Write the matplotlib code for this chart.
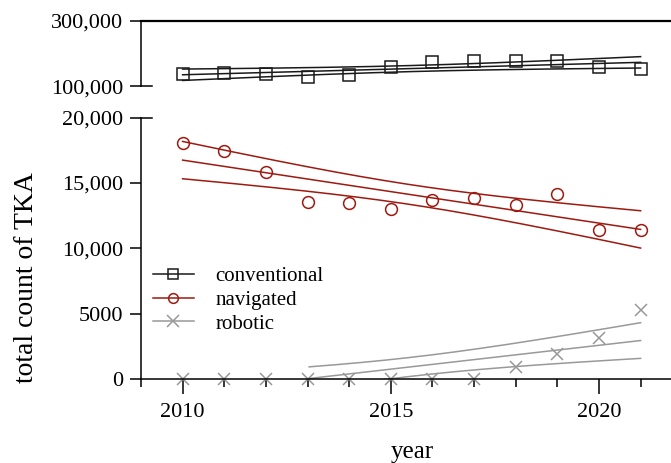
import numpy as np
import matplotlib
matplotlib.use('Agg')
import matplotlib.pyplot as plt
from matplotlib.lines import Line2D

plt.rcParams['font.family'] = ['Liberation Serif', 'DejaVu Serif']

# values
years = np.arange(2010, 2022)
conventional = [139100, 140900, 137800, 128600, 133800, 159400,
                173800, 176900, 176900, 177900, 159400, 153200]
navigated = [18020, 17460, 15830, 13500, 13450, 12990,
             13680, 13860, 13340, 14180, 11360, 11430]
robotic = [0, 0, 0, 0, 0, 0, 0, 0, 905, 1940, 3100, 5300]
robotic_fit_from = 2013

top_ticks = [100000, 300000]
top_labels = ['100,000', '300,000']
bot_ticks = [0, 5000, 10000, 15000, 20000]
bot_labels = ['0', '5000', '10,000', '15,000', '20,000']

c_conv = '#1a1a1a'
c_nav = '#9e1a10'
c_rob = '#999999'


def ols_band(x, y, xs, t=2.228):
    # linear fit with 95% confidence band of the mean (n=12, df=10)
    x = np.asarray(x, float)
    y = np.asarray(y, float)
    b, a = np.polyfit(x, y, 1)
    res = y - (a + b * x)
    s = np.sqrt(np.sum(res ** 2) / (len(x) - 2))
    xm = x.mean()
    sxx = np.sum((x - xm) ** 2)
    fit = a + b * xs
    half = t * s * np.sqrt(1 / len(x) + (xs - xm) ** 2 / sxx)
    return fit, fit - half, fit + half


xs = np.linspace(years[0], years[-1], 200)
xs_rob = xs[xs >= robotic_fit_from]

fig = plt.figure(figsize=(6.71, 4.63), dpi=100)
ax_top = fig.add_axes([0.2101, 0.8132, 0.7899, 0.1414])
ax_bot = fig.add_axes([0.2101, 0.1814, 0.7899, 0.5648])

mk = dict(ms=8.5, mew=1.1, mfc='none', ls='none')

# conventional on the upper part
for curve in ols_band(years, conventional, xs):
    ax_top.plot(xs, curve, color=c_conv, lw=1.1)
ax_top.plot(years, conventional, marker='s', color=c_conv, **mk)

# navigated and robotic on the lower part
for curve in ols_band(years, navigated, xs):
    ax_bot.plot(xs, curve, color=c_nav, lw=1.1)
ax_bot.plot(years, navigated, marker='o', color=c_nav, **mk)
for curve in ols_band(years, robotic, xs_rob):
    ax_bot.plot(xs_rob, curve, color=c_rob, lw=1.1)
ax_bot.plot(years, robotic, marker='x', color=c_rob, ms=9, mew=1.1, ls='none',
            clip_on=False)

for ax in (ax_top, ax_bot):
    ax.set_xlim(2009, 2021.73)
    ax.spines['right'].set_visible(False)
    ax.spines['left'].set_linewidth(1.1)
    ax.tick_params(axis='y', direction='out', length=8, width=1.1, pad=5,
                   labelsize=16)

ax_top.set_ylim(100000, 300000)
ax_top.set_yticks(top_ticks, top_labels)
ax_top.spines['bottom'].set_visible(False)
ax_top.spines['top'].set_linewidth(1.6)
ax_top.set_xticks([])

ax_bot.set_ylim(0, 20000)
ax_bot.set_yticks(bot_ticks, bot_labels)
ax_bot.spines['top'].set_visible(False)
ax_bot.spines['bottom'].set_linewidth(1.1)
ax_bot.set_xticks([2010, 2015, 2020])
ax_bot.set_xticks(years.tolist() + [2009], minor=True)
ax_bot.tick_params(axis='x', which='major', direction='out', length=11,
                   width=1.1, pad=6, labelsize=16)
ax_bot.tick_params(axis='x', which='minor', direction='out', length=5.5,
                   width=1.1)

# little caps at the break
ax_top.add_line(Line2D([0, 0.02], [0, 0], transform=ax_top.transAxes,
                       color='black', lw=1.1, clip_on=False))
ax_bot.add_line(Line2D([0, 0.02], [1, 1], transform=ax_bot.transAxes,
                       color='black', lw=1.1, clip_on=False))

handles = [Line2D([], [], color=c_conv, marker='s', ms=7, mfc='none', mew=1.1, lw=1.1),
           Line2D([], [], color=c_nav, marker='o', ms=7, mfc='none', mew=1.1, lw=1.1),
           Line2D([], [], color=c_rob, marker='x', ms=8, mew=1.1, lw=1.1)]
ax_bot.legend(handles, ['conventional', 'navigated', 'robotic'],
              loc='upper left', bbox_to_anchor=(0.022, 0.43), frameon=False,
              fontsize=15, borderpad=0, borderaxespad=0, handlelength=2.0,
              handletextpad=1.0, labelspacing=0.2)

fig.text(27 / 671, 1 - 278 / 463, 'total count of TKA', rotation=90,
         ha='center', va='center', fontsize=20)
fig.text(412 / 671, 1 - 452 / 463, 'year', ha='center', va='center',
         fontsize=18)

fig.savefig('out.png', dpi=100)
